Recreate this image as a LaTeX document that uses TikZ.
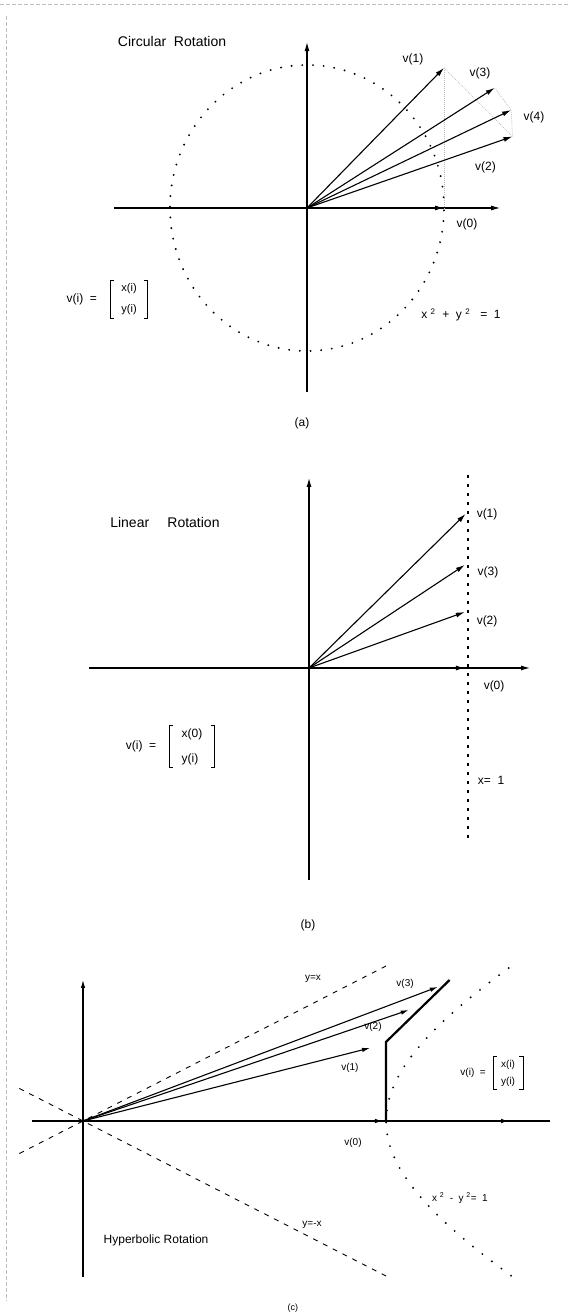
\documentclass[tikz,border=0pt]{standalone}
\usepackage{fontspec}
\setmainfont{Liberation Sans}
\usetikzlibrary{arrows.meta,positioning}

% 矩阵的方括号
\newcommand{\matbrk}[1]{%
  \draw[brk] ([xshift=4pt]#1.north west) -- (#1.north west) -- (#1.south west) -- ([xshift=4pt]#1.south west);
  \draw[brk] ([xshift=-4pt]#1.north east) -- (#1.north east) -- (#1.south east) -- ([xshift=-4pt]#1.south east);}

\begin{document}
\begin{tikzpicture}[x=1pt, y=1pt, >={Latex[length=9pt,width=5pt]}]

    \tikzset{
      axis/.style={->, line width=1.1pt},
      vec/.style={->, line width=1.1pt},
      lbl/.style={font=\fontsize{12}{14}\selectfont, inner sep=1pt},
      slbl/.style={font=\fontsize{10}{12}\selectfont, inner sep=1pt},
      title/.style={font=\fontsize{14}{16}\selectfont, inner sep=1pt},
      brk/.style={line width=0.9pt},
      matbox/.style={align=left, inner xsep=11pt, inner ysep=3pt},
      rim/.style={gray!50, line width=0.4pt, dash pattern=on 4pt off 2pt},
      unitdots/.style={line width=2.1pt, line cap=round, dash pattern=on 0pt off 10.7pt},
      guide/.style={gray!55, line width=0.8pt, dash pattern=on 0.8pt off 1.2pt},
      linedots/.style={line width=2.8pt, dash pattern=on 3.4pt off 5.6pt},
      hypdots/.style={line width=2.1pt, line cap=round, dash pattern=on 0pt off 12pt},
      asym/.style={line width=0.9pt, dash pattern=on 5pt off 6pt}
    }
    \useasboundingbox (0,0) rectangle (568,1316);

    % 扫描页的边线
    \draw[rim] (0,1312) -- (568,1312);
    \draw[rim] (6,1300) -- (6,15);

    % 1. (a) 圆周旋转
    \begin{scope}[shift={(307,1108)}, x=137pt, y=143pt]
      \coordinate (aO) at (0,0);
      \coordinate (av0) at (1,0);
      \coordinate (av1) at (1,0.98);
      \coordinate (av2) at (1.5,0.5);
      \coordinate (av3) at (1.37,0.84);
      \coordinate (av4) at (1.49,0.685);
      \coordinate (axl) at (-1.41,0);
      \coordinate (axr) at (1.41,0);
      \coordinate (ayb) at (0,-1.29);
      \coordinate (ayt) at (0,1.16);

      % 单位圆 (点线)
      \draw[unitdots] (aO) ellipse [x radius=1, y radius=1];

      % 坐标轴
      \draw[axis] (axl) -- (axr);
      \draw[axis] (ayb) -- (ayt);

      % 辅助线
      \draw[guide] (av1) -- (av0);
      \draw[guide] (av1) -- (av2);
      \draw[guide] (av3) -- (av4) -- (av2);

      % 矢量 v(i)
      \foreach \k in {0,...,4}
        \draw[vec] (aO) -- (av\k);

      \node[lbl] (av1l) at (0.774,1.042) {v(1)};
      \node[lbl] (av3l) at (1.263,0.944) {v(3)};
      \node[lbl] (av4l) at (1.657,0.636) {v(4)};
      \node[lbl] (av2l) at (1.303,0.287) {v(2)};
      \node[lbl] (av0l) at (1.168,-0.112) {v(0)};

      \node[title] (atitle) at (-0.985,1.161) {Circular\ \ Rotation};
      \node[matbox, font=\fontsize{11}{21}\selectfont] (amat) at (-1.299,-0.64) {x(i)\\y(i)};
      \matbrk{amat}
      \node[lbl, left=12pt of amat] (avi) {v(i) \ =};
      \node[lbl] (aeq) at (1.124,-0.748) {x \textsuperscript{2} \ + \ y \textsuperscript{2} \ \ = \ 1};
      \node[lbl] (acap) at (-0.036,-1.503) {(a)};
    \end{scope}

    % 2. (b) 线性旋转
    \begin{scope}[shift={(309,648)}, x=159pt, y=159pt]
      \coordinate (bO) at (0,0);
      \coordinate (bv0) at (0.98,0);
      \coordinate (bv1) at (0.985,0.969);
      \coordinate (bv3) at (0.98,0.648);
      \coordinate (bv2) at (0.98,0.352);
      \coordinate (bxl) at (-1.384,0);
      \coordinate (bxr) at (1.39,0);
      \coordinate (byb) at (0,-1.333);
      \coordinate (byt) at (0,1.195);
      \coordinate (bdt) at (1,1.214);
      \coordinate (bdb) at (1,-1.1);

      % x = 1 (粗点线)
      \draw[linedots] (bdt) -- (bdb);

      \draw[axis] (bxl) -- (bxr);
      \draw[axis] (byb) -- (byt);

      \foreach \k in {0,...,3}
        \draw[vec] (bO) -- (bv\k);

      \node[lbl] (bv1l) at (1.12,0.969) {v(1)};
      \node[lbl] (bv3l) at (1.126,0.604) {v(3)};
      \node[lbl] (bv2l) at (1.12,0.296) {v(2)};
      \node[lbl] (bv0l) at (1.164,-0.113) {v(0)};
      \node[lbl] (bx1) at (1.145,-0.704) {x= \ 1};

      \node[title] (btitle) at (-0.906,0.912) {Linear\hspace{1.3em}Rotation};
      \node[matbox, inner xsep=12pt, font=\fontsize{12}{25}\selectfont] (bmat) at (-0.736,-0.494) {x(0)\\y(i)};
      \matbrk{bmat}
      \node[lbl, left=12pt of bmat] (bvi) {v(i) \ =};
      \node[lbl] (bcap) at (-0.006,-1.616) {(b)};
    \end{scope}

    % 3. (c) 双曲旋转
    \begin{scope}[shift={(83,195)}, x=303pt, y=155pt, >={Latex[length=8pt,width=4.5pt]}]
      \coordinate (cO) at (0,0);
      \coordinate (cv0) at (0.99,0);
      \coordinate (cv1) at (0.947,0.471);
      \coordinate (cv2) at (1.075,0.716);
      \coordinate (cv3) at (1.171,0.865);
      \coordinate (cxl) at (-0.168,0);
      \coordinate (cxa) at (1.406,0);
      \coordinate (cxr) at (1.541,0);
      \coordinate (cyb) at (0,-1.006);
      \coordinate (cyt) at (0,0.91);
      \coordinate (ck0) at (1,0);
      \coordinate (ck1) at (1,0.51);
      \coordinate (ck2) at (1.21,0.91);

      % 渐近线 y = x, y = -x
      \draw[asym] (-0.21,-0.21) -- (1,1);
      \draw[asym] (-0.21,0.21) -- (1,-1);

      % 双曲线 x^2 - y^2 = 1
      \draw[hypdots] plot[domain=-0.88:0.88, samples=40] ({cosh(\x)},{sinh(\x)});

      \draw[line width=1.1pt] (cxl) -- (cxr);
      \draw[axis] (cxl) -- (cxa);
      \draw[axis] (cyb) -- (cyt);

      % 粗折线
      \draw[line width=2.2pt] (ck0) -- (ck1) -- (ck2);

      \foreach \k in {0,...,3}
        \draw[vec] (cO) -- (cv\k);

      \node[slbl] (cyx) at (0.759,0.916) {y=x};
      \node[slbl] (cv3l) at (1.063,0.884) {v(3)};
      \node[slbl] (cv2l) at (0.957,0.606) {v(2)};
      \node[slbl] (cv1l) at (0.881,0.342) {v(1)};
      \node[slbl] (cv0l) at (0.891,-0.142) {v(0)};
      \node[slbl] (cymx) at (0.756,-0.671) {y=-x};
      \node[slbl] (ceq) at (1.244,-0.497) {x \textsuperscript{2} \ - \ y \textsuperscript{2}= \ 1};
      \node[matbox, inner xsep=8pt, font=\fontsize{10}{17}\selectfont] (cmat) at (1.403,0.31) {x(i)\\y(i)};
      \matbrk{cmat}
      \node[slbl, left=6pt of cmat] (cvi) {v(i) \ =};
      \node[font=\fontsize{12}{14}\selectfont] (ctitle) at (0.241,-0.768) {Hyperbolic Rotation};
      \node[font=\fontsize{9}{11}\selectfont] (ccap) at (0.693,-1.206) {(c)};
    \end{scope}

\end{tikzpicture}
\end{document}
